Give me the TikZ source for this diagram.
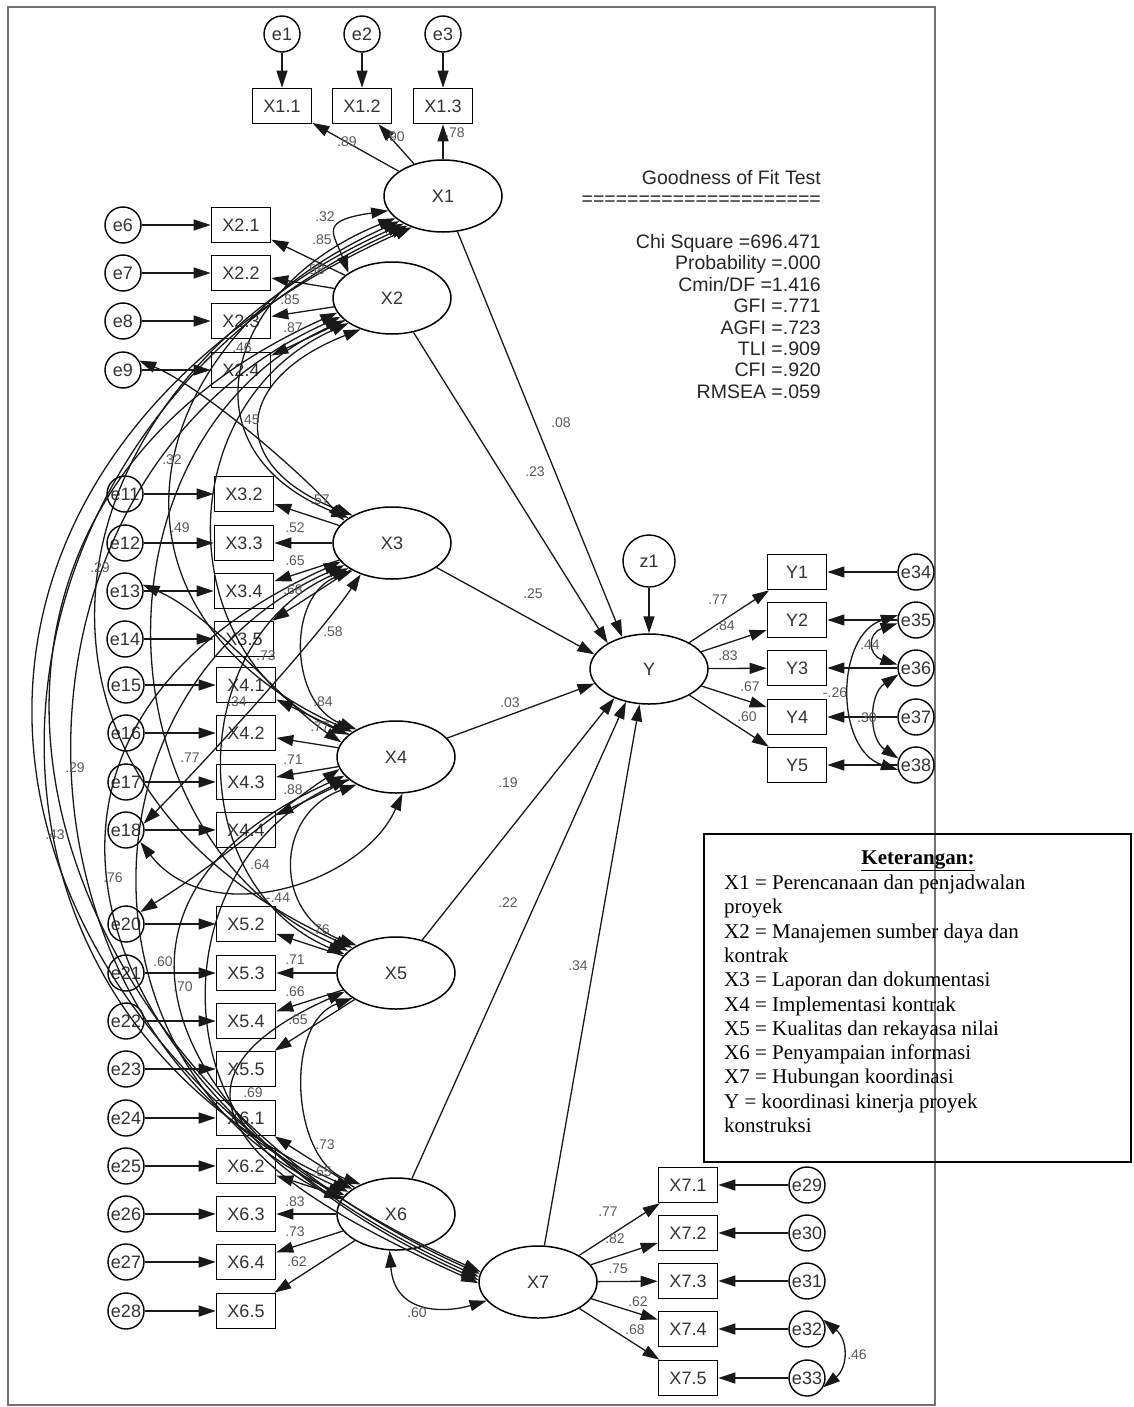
\documentclass[tikz,border=0pt]{standalone}
\usepackage{fontspec}
\setmainfont{Liberation Sans}
\newfontfamily\legfont{Liberation Serif}
\usetikzlibrary{shapes.geometric, arrows.meta}

\begin{document}
\begin{tikzpicture}[
    x=1pt, y=-1pt,
    font=\fontsize{18}{20}\selectfont,
    lat/.style={draw, ellipse, line width=1.5pt, minimum width=118pt, minimum height=72pt, inner sep=0pt, text=black!80},
    ind/.style={draw, rectangle, line width=1.6pt, minimum width=59pt, minimum height=35pt, inner sep=0pt, text=black!80},
    err/.style={draw, circle, line width=1.4pt, minimum size=36pt, inner sep=0pt, text=black!80},
    arr/.style={-{Triangle[length=17pt, width=11pt]}, line width=1.3pt, draw=black!90},
    cov/.style={{Triangle[length=17pt, width=11pt]}-{Triangle[length=17pt, width=11pt]}, line width=1.3pt, draw=black!90},
    lbl/.style={font=\fontsize{14}{14}\selectfont, text=black!65, inner sep=0pt},
    gof/.style={font=\fontsize{19.5}{20}\selectfont, text=black!85, inner sep=0pt, anchor=base east},
    leg/.style={font=\legfont\fontsize{21}{24}\selectfont, inner sep=0pt, anchor=base west}
]
\useasboundingbox (0,0) rectangle (1133,1407);
\draw[black!55, line width=1.2pt] (8,7) rectangle (935,1405);

% latent variables
\node[lat] (X1) at (443,196) {X1};
\node[lat] (X2) at (392,298) {X2};
\node[lat] (X3) at (392,543) {X3};
\node[lat] (X4) at (396,757) {X4};
\node[lat] (X5) at (396,973) {X5};
\node[lat] (X6) at (396,1214) {X6};
\node[lat] (X7) at (538,1282) {X7};
\node[lat, minimum height=70pt] (Y) at (649,669) {Y};
\node[err, minimum size=52pt] (z1) at (649,561) {z1};

% indicators and errors
\foreach \i/\x in {1/282, 2/362, 3/443} {
  \node[ind] (X1\i) at (\x,106) {X1.\i};
  \node[err] (e\i) at (\x,34) {e\i};
  \draw[arr] (e\i) -- (X1\i);
}
\foreach \i/\e/\y in {1/6/225, 2/7/273, 3/8/321, 4/9/370} {
  \node[ind] (X2\i) at (241,\y) {X2.\i};
  \node[err] (e\e) at (123,\y) {e\e};
  \draw[arr] (e\e) -- (X2\i);
  \draw[arr] (X2) -- (X2\i);
}
\foreach \i/\e/\y in {2/11/494, 3/12/543, 4/13/591, 5/14/639} {
  \node[ind] (X3\i) at (244,\y) {X3.\i};
  \node[err] (e\e) at (125,\y) {e\e};
  \draw[arr] (e\e) -- (X3\i);
  \draw[arr] (X3) -- (X3\i);
}
\foreach \i/\e/\y in {1/15/685, 2/16/733, 3/17/782, 4/18/830} {
  \node[ind] (X4\i) at (246,\y) {X4.\i};
  \node[err] (e\e) at (126,\y) {e\e};
  \draw[arr] (e\e) -- (X4\i);
  \draw[arr] (X4) -- (X4\i);
}
\foreach \i/\e/\y in {2/20/924, 3/21/973, 4/22/1021, 5/23/1069} {
  \node[ind] (X5\i) at (246,\y) {X5.\i};
  \node[err] (e\e) at (126,\y) {e\e};
  \draw[arr] (e\e) -- (X5\i);
  \draw[arr] (X5) -- (X5\i);
}
\foreach \i/\e/\y in {1/24/1118, 2/25/1166, 3/26/1214, 4/27/1262, 5/28/1311} {
  \node[ind] (X6\i) at (246,\y) {X6.\i};
  \node[err] (e\e) at (126,\y) {e\e};
  \draw[arr] (e\e) -- (X6\i);
  \draw[arr] (X6) -- (X6\i);
}
\foreach \i/\e/\y in {1/29/1185, 2/30/1233, 3/31/1281, 4/32/1329, 5/33/1378} {
  \node[ind] (X7\i) at (688,\y) {X7.\i};
  \node[err] (e\e) at (807,\y) {e\e};
  \draw[arr] (e\e) -- (X7\i);
  \draw[arr] (X7) -- (X7\i);
}
\foreach \i/\e/\y in {1/34/572, 2/35/620, 3/36/668, 4/37/717, 5/38/765} {
  \node[ind] (Y\i) at (797,\y) {Y\i};
  \node[err] (e\e) at (916,\y) {e\e};
  \draw[arr] (e\e) -- (Y\i);
  \draw[arr] (Y) -- (Y\i);
}
\foreach \i in {1,2,3} \draw[arr] (X1) -- (X1\i);

% structural paths
\draw[arr] (X1) -- (Y.130);
\draw[arr] (X2) -- (Y.148);
\draw[arr] (X3) -- (Y.165);
\draw[arr] (X4) -- (Y.195);
\draw[arr] (X5) -- (Y.220);
\draw[arr] (X6) -- (Y.235);
\draw[arr] (X7) -- (Y.255);
\draw[arr] (z1) -- (Y);

% covariances
\foreach \s/\t/\c/\k in {X1.205/X3.150/170/68, X1.210/X4.150/269/121, X1.215/X5.150/371/167,
    X1.220/X6.150/441/198, X1.225/X7.170/545/245, X2.225/X3.145/127/50, X2.210/X4.155/179/80,
    X2.205/X5.155/256/115, X2.200/X6.155/360/162, X2.195/X7.172/463/208, X3.215/X4.145/67/25,
    X3.210/X5.160/163/70, X3.205/X6.160/273/120, X3.200/X7.175/389/175, X4.215/X5.145/83/30,
    X4.205/X6.165/181/80, X4.200/X7.178/296/133, X5.210/X6.140/69/25, X5.200/X7.181/216/97}
  \draw[cov] (\s) .. controls +(-\c,\k) and +(-\c,-\k) .. (\t);
\draw[cov] (X1.195) .. controls +(-70,10) and +(-15,-40) .. (X2.150);
\draw[cov] (X6.260) .. controls +(5,65) and +(-40,12) .. (X7.200);
\draw[cov] (e9.30) .. controls +(60,25) and +(-50,-55) .. (X3.155);
\draw[cov] (e13.20) .. controls +(70,30) and +(-60,-40) .. (X4.165);
\draw[cov] (e18.20) .. controls +(60,-60) and +(-40,60) .. (X3.225);
\draw[cov] (e18.-40) .. controls +(70,90) and +(-40,90) .. (X4.280);
\draw[cov] (e20.40) .. controls +(80,-50) and +(-60,40) .. (X4.192);
\draw[cov] (e35.190) .. controls +(-30,10) and +(-30,-10) .. (e36.170);
\draw[cov] (e36.200) .. controls +(-30,20) and +(-30,-20) .. (e38.160);
\draw[cov] (e35.165) .. controls +(-63,20) and +(-63,-20) .. (e38.195);
\draw[cov] (e32.30) .. controls +(25,20) and +(25,-20) .. (e33.-30);

% estimates
\foreach \x/\y/\t [count=\n] in {347/142/.89, 395/137/.90, 455/133/.78,
    322/240/.85, 315/270/.88, 290/300/.85, 293/328/.87,
    320/500/.57, 295/528/.52, 295/561/.65, 293/590/.68,
    266/656/.73, 320/727/.77, 293/760/.71, 293/790/.88,
    320/930/.76, 295/960/.71, 295/992/.66, 298/1020/.65,
    325/1145/.73, 322/1172/.65, 295/1202/.83, 295/1232/.73, 297/1262/.62,
    608/1212/.77, 615/1239/.82, 618/1269/.75, 638/1302/.62, 635/1330/.68,
    718/600/.77, 725/626/.84, 728/656/.83, 750/687/.67, 747/717/.60,
    561/423/.08, 535/472/.23, 533/594/.25, 510/703/.03, 508/783/.19, 508/903/.22, 578/966/.34,
    325/217/.32, 242/348/.46, 250/420/.45, 172/460/.32, 180/528/.49, 100/568/.29,
    333/632/.58, 323/702/.84, 237/702/.34, 190/758/.77, 75/768/.29, 55/835/.43,
    260/865/.64, 113/878/.76, 278/898/-.44, 163/962/.60, 183/987/.70, 253/1093/.69,
    417/1313/.60, 870/645/.44, 835/693/-.26, 867/718/.30, 857/1355/.46}
  \node[lbl] (est\n) at (\x,\y) {\t};

% fit indices
\node[gof] (gtitle) at (821,185) {Goodness of Fit Test};
\node[gof] (gline) at (821,205) {=====================};
\foreach \t [count=\n] in {Chi Square =696.471, Probability =.000, Cmin/DF =1.416, GFI =.771,
    AGFI =.723, TLI =.909, CFI =.920, RMSEA =.059}
  \node[gof] (g\n) at (821,{248.5+21.4*(\n-1)}) {\t};

% legend
\draw[line width=2.2pt] (704,834) rectangle (1131,1162);
\node[leg, anchor=base] (ltitle) at (918,864.5) {\underline{\textbf{Keterangan:}}};
\foreach \t [count=\n] in {X1 = Perencanaan dan penjadwalan, proyek, X2 = Manajemen sumber daya dan,
    kontrak, X3 = Laporan dan dokumentasi, X4 = Implementasi kontrak, X5 = Kualitas dan rekayasa nilai,
    X6 = Penyampaian informasi, X7 = Hubungan koordinasi, Y = koordinasi kinerja proyek, konstruksi}
  \node[leg] (l\n) at (724,{889.5+24.3*(\n-1)}) {\t};
\end{tikzpicture}
\end{document}
